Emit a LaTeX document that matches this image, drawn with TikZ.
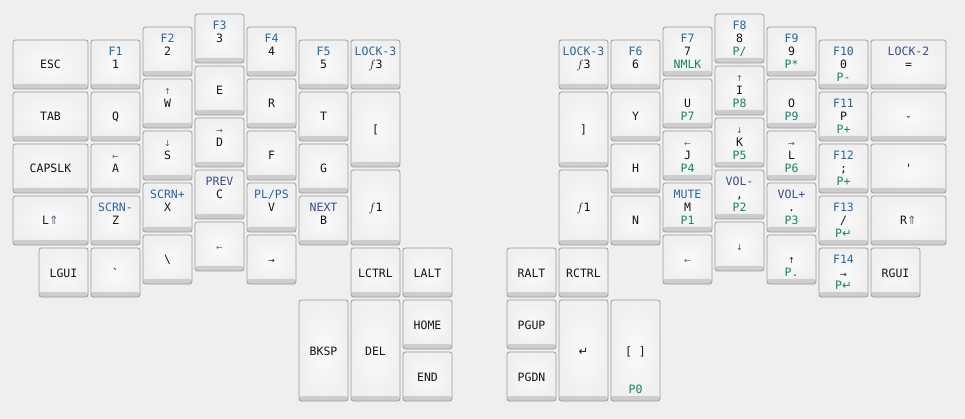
\documentclass[tikz,border=0pt]{standalone}
\usepackage{fontspec}
\setmonofont{DejaVu Sans Mono}
\newfontfamily\symfont{DejaVu Sans}

\definecolor{bgc}{HTML}{EFEFEF}
\definecolor{keyedge}{HTML}{9A9A9A}
\definecolor{keyband}{HTML}{CDCDCD}
\definecolor{txt}{HTML}{141414}
\definecolor{layer}{HTML}{2566A6}
\definecolor{media}{HTML}{3A4C8C}
\definecolor{numpad}{HTML}{12875C}
\definecolor{arrowc}{HTML}{5E5E6E}

\tikzset{
  keycap/.style={draw=keyedge, line width=0.8pt, rounded corners=2.5pt,
    inner sep=0pt, outer sep=0pt, shading=radial,
    inner color=white!96!gray, outer color=white!88!gray,
    path picture={\fill[keyband] ([yshift=5pt]path picture bounding box.south west)
      rectangle (path picture bounding box.south east);}},
  lbl/.style={anchor=base, inner sep=0pt, text=txt,
    font=\ttfamily\fontsize{11.5}{13}\selectfont},
  toplbl/.style={lbl, text=layer},
  midlbl/.style={lbl},
  botlbl/.style={lbl, text=numpad},
}

% small arrow glyphs
\newcommand\sarr[1]{{\symfont\fontsize{8}{8}\selectfont #1}}
\newcommand\sym[1]{{\symfont #1}}

% name, left, top, width, height, top label, main label, bottom label
\newcommand\keycap[8]{%
  \node[keycap, minimum width=#4pt, minimum height=#5pt] (#1) at ({#2+#4/2},{#3+#5/2}) {};
  \node[toplbl] (#1-t) at ([yshift=-15.5pt]#1.north) {#6};
  \node[midlbl] (#1-m) at ([yshift=-4.5pt]#1.center) {#7};
  \node[botlbl] (#1-b) at ([yshift=7.5pt]#1.south) {#8};
}

\begin{document}
\begin{tikzpicture}[x=1pt, y=-1pt]
  \fill[bgc] (0,0) rectangle (965,419);
  \useasboundingbox (0,0) rectangle (965,419);

  % left hand
  \keycap{esc}{13}{40}{75}{49}{}{ESC}{}
  \keycap{tab}{13}{92}{75}{49}{}{TAB}{}
  \keycap{capslk}{13}{144}{75}{49}{}{CAPSLK}{}
  \keycap{lshift}{13}{196}{75}{49}{}{L\textcolor{media!70!gray}{\sym{⇑}}}{}
  \keycap{lgui}{39}{248}{49}{49}{}{LGUI}{}

  \keycap{k1}{91}{40}{49}{49}{F1}{1}{}
  \keycap{q}{91}{92}{49}{49}{}{Q}{}
  \keycap{a}{91}{144}{49}{49}{\textcolor{arrowc}{\sarr{←}}}{A}{}
  \keycap{z}{91}{196}{49}{49}{SCRN-}{Z}{}
  \keycap{grave}{91}{248}{49}{49}{}{\symbol{96}}{}

  \keycap{k2}{143}{27}{49}{49}{F2}{2}{}
  \keycap{w}{143}{79}{49}{49}{\sarr{↑}}{W}{}
  \keycap{s}{143}{131}{49}{49}{\sarr{↓}}{S}{}
  \keycap{x}{143}{183}{49}{49}{SCRN+}{X}{}
  \keycap{bslash}{143}{235}{49}{49}{}{\textbackslash}{}

  \keycap{k3}{195}{14}{49}{49}{F3}{3}{}
  \keycap{e}{195}{66}{49}{49}{}{E}{}
  \keycap{d}{195}{118}{49}{49}{\textcolor{media}{\sarr{→}}}{D}{}
  \keycap{c}{195}{170}{49}{49}{\textcolor{media}{PREV}}{C}{}
  \keycap{left}{195}{222}{49}{49}{}{\textcolor{arrowc}{\sarr{←}}}{}

  \keycap{k4}{247}{27}{49}{49}{F4}{4}{}
  \keycap{r}{247}{79}{49}{49}{}{R}{}
  \keycap{f}{247}{131}{49}{49}{}{F}{}
  \keycap{v}{247}{183}{49}{49}{PL/PS}{V}{}
  \keycap{right}{247}{235}{49}{49}{}{\sarr{→}}{}

  \keycap{k5}{299}{40}{49}{49}{F5}{5}{}
  \keycap{t}{299}{92}{49}{49}{}{T}{}
  \keycap{g}{299}{144}{49}{49}{}{G}{}
  \keycap{b}{299}{196}{49}{49}{\textcolor{media}{NEXT}}{B}{}

  \keycap{lockl}{351}{40}{49}{49}{LOCK-3}{$f$3}{}
  \keycap{lbrack}{351}{92}{49}{75}{}{[}{}
  \keycap{fnl}{351}{170}{49}{75}{}{$f$1}{}

  % left thumb
  \keycap{lctrl}{351}{248}{49}{49}{}{LCTRL}{}
  \keycap{lalt}{403}{248}{49}{49}{}{LALT}{}
  \keycap{bksp}{299}{300}{49}{101}{}{BKSP}{}
  \keycap{del}{351}{300}{49}{101}{}{DEL}{}
  \keycap{home}{403}{300}{49}{49}{}{HOME}{}
  \keycap{end}{403}{352}{49}{49}{}{END}{}

  % right thumb
  \keycap{ralt}{507}{248}{49}{49}{}{RALT}{}
  \keycap{rctrl}{559}{248}{49}{49}{}{RCTRL}{}
  \keycap{pgup}{507}{300}{49}{49}{}{PGUP}{}
  \keycap{pgdn}{507}{352}{49}{49}{}{PGDN}{}
  \keycap{enter}{559}{300}{49}{101}{}{\sym{↵}}{}
  \keycap{space}{611}{300}{49}{101}{}{[ ]}{P0}

  % right hand
  \keycap{lockr}{559}{40}{49}{49}{LOCK-3}{$f$3}{}
  \keycap{rbrack}{559}{92}{49}{75}{}{]}{}
  \keycap{fnr}{559}{170}{49}{75}{}{$f$1}{}

  \keycap{k6}{611}{40}{49}{49}{F6}{6}{}
  \keycap{y}{611}{92}{49}{49}{}{Y}{}
  \keycap{h}{611}{144}{49}{49}{}{H}{}
  \keycap{n}{611}{196}{49}{49}{}{N}{}

  \keycap{k7}{663}{27}{49}{49}{F7}{7}{NMLK}
  \keycap{u}{663}{79}{49}{49}{}{U}{P7}
  \keycap{j}{663}{131}{49}{49}{\textcolor{arrowc}{\sarr{←}}}{J}{P4}
  \keycap{m}{663}{183}{49}{49}{MUTE}{M}{P1}
  \keycap{rleft}{663}{235}{49}{49}{}{\textcolor{arrowc}{\sarr{←}}}{}

  \keycap{k8}{715}{14}{49}{49}{F8}{8}{P/}
  \keycap{i}{715}{66}{49}{49}{\sarr{↑}}{I}{P8}
  \keycap{k}{715}{118}{49}{49}{\sarr{↓}}{K}{P5}
  \keycap{comma}{715}{170}{49}{49}{\textcolor{media}{VOL-}}{,}{P2}
  \keycap{down}{715}{222}{49}{49}{}{\textcolor{media}{\sarr{↓}}}{}

  \keycap{k9}{767}{27}{49}{49}{F9}{9}{P*}
  \keycap{o}{767}{79}{49}{49}{}{O}{P9}
  \keycap{l}{767}{131}{49}{49}{\textcolor{media}{\sarr{→}}}{L}{P6}
  \keycap{period}{767}{183}{49}{49}{\textcolor{media}{VOL+}}{.}{P3}
  \keycap{pdot}{767}{235}{49}{49}{}{\sarr{↑}}{P.}

  \keycap{k0}{819}{40}{49}{49}{F10}{0}{P-}
  \keycap{p}{819}{92}{49}{49}{F11}{P}{P+}
  \keycap{semi}{819}{144}{49}{49}{F12}{;}{P+}
  \keycap{slash}{819}{196}{49}{49}{F13}{/}{P\sym{↵}}
  \keycap{f14}{819}{248}{49}{49}{F14}{\sarr{→}}{P\sym{↵}}

  \keycap{lock2}{871}{40}{75}{49}{\textcolor{media}{LOCK-2}}{=}{}
  \keycap{minus}{871}{92}{75}{49}{}{-}{}
  \keycap{quote}{871}{144}{75}{49}{}{\symbol{39}}{}
  \keycap{rshift}{871}{196}{75}{49}{}{R\textcolor{media!70!gray}{\sym{⇑}}}{}
  \keycap{rgui}{871}{248}{49}{49}{}{RGUI}{}
\end{tikzpicture}
\end{document}
